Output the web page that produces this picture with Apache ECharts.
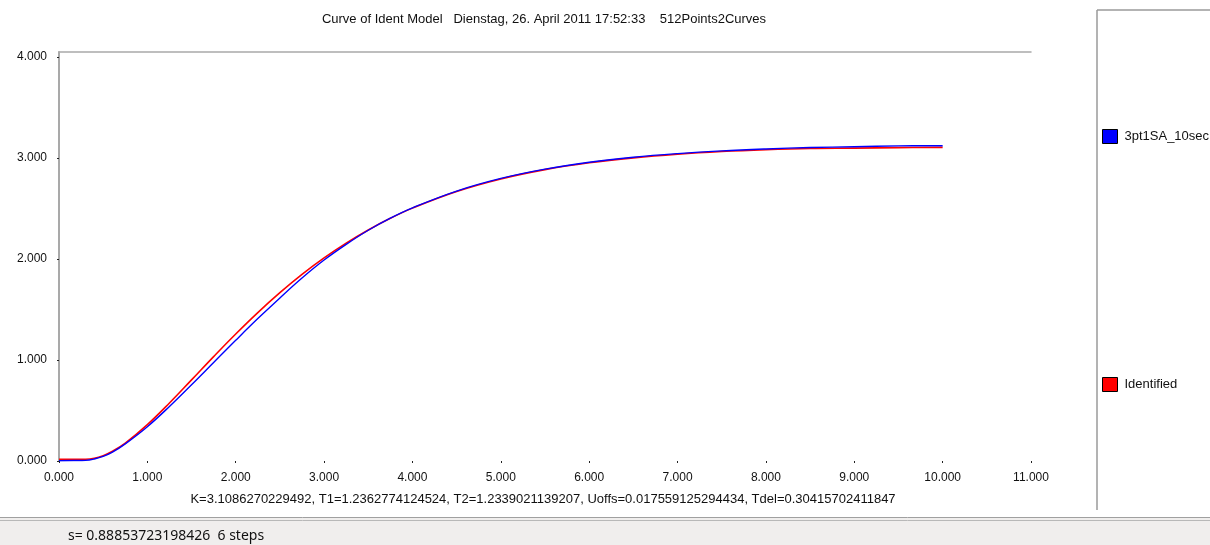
<!DOCTYPE html>
<html>
<head>
<meta charset="utf-8">
<title>Curve of Ident Model</title>
<script src="https://cdn.jsdelivr.net/npm/echarts@6/dist/echarts.min.js"></script>
<style>
  html, body { margin: 0; padding: 0; background: #ffffff; }
  #chart { width: 1210px; height: 545px; }
</style>
</head>
<body>
<div id="chart"></div>
<script>
// Time axis samples (seconds)
const timeValues = [0, 0.25, 0.3, 0.4, 0.5, 0.6, 0.75, 1.0, 1.25, 1.5, 1.75, 2.0, 2.25, 2.5, 2.75,
  3.0, 3.25, 3.5, 3.75, 4.0, 4.5, 5.0, 5.5, 6.0, 6.5, 7.0, 7.5, 8.0, 8.5, 9.0, 9.5, 10.0];

// Measured step response "3pt1SA_10sec"
const measuredValues = [0.003, 0.005, 0.006, 0.02, 0.045, 0.085, 0.17, 0.34, 0.54, 0.755, 0.975, 1.195,
  1.41, 1.615, 1.812, 1.99, 2.145, 2.285, 2.405, 2.507, 2.673, 2.798, 2.89, 2.958, 3.008, 3.044,
  3.071, 3.09, 3.104, 3.112, 3.12, 3.122];

// Identified model response
const identifiedValues = [0.018, 0.018, 0.018, 0.027, 0.053, 0.094, 0.177, 0.36, 0.574, 0.803, 1.034,
  1.258, 1.47, 1.667, 1.848, 2.011, 2.157, 2.288, 2.403, 2.504, 2.669, 2.793, 2.885, 2.953, 3.002,
  3.038, 3.064, 3.082, 3.094, 3.098, 3.103, 3.106];

const xTickValues = [0, 1, 2, 3, 4, 5, 6, 7, 8, 9, 10, 11];
const yTickValues = [0, 1, 2, 3, 4];

const seriesNames = ['3pt1SA_10sec', 'Identified'];
const chartTitle = 'Curve of Ident Model   Dienstag, 26. April 2011 17:52:33    512Points2Curves';
const paramText = 'K=3.1086270229492, T1=1.2362774124524, T2=1.2339021139207, Uoffs=0.017559125294434, Tdel=0.30415702411847';
const statusText = 's= 0.88853723198426  6 steps';

const pairs = (ys) => timeValues.map((t, i) => [t, ys[i]]);
const fmt = (v) => v.toFixed(3);

const chart = echarts.init(document.getElementById('chart'), null, { renderer: 'canvas' });

const baseFont = 'Liberation Sans, Arial, sans-serif';

chart.setOption({
  backgroundColor: '#ffffff',
  animation: false,
  textStyle: { fontFamily: baseFont },
  title: [
    {
      text: chartTitle,
      left: 539, top: 8, textAlign: 'center',
      textStyle: { fontSize: 13, fontWeight: 'normal', color: '#111', fontFamily: baseFont }
    },
    {
      text: paramText,
      left: 538, top: 488, textAlign: 'center',
      textStyle: { fontSize: 13, fontWeight: 'normal', color: '#111', fontFamily: baseFont }
    }
  ],
  grid: { left: 59, right: 179, top: 52, bottom: 84, containLabel: false },
  legend: {
    orient: 'vertical',
    left: 1102, top: 129, padding: 0,
    itemWidth: 15, itemHeight: 14, itemGap: 233,
    icon: 'rect',
    itemStyle: { borderColor: '#000', borderWidth: 1 },
    textStyle: { fontSize: 13, color: '#111', fontFamily: baseFont, padding: [0, 0, 0, 2] },
    data: seriesNames
  },
  xAxis: [
    {
      type: 'value', min: 0, max: 11, interval: 1,
      position: 'bottom',
      axisLine: { show: false },
      axisTick: { show: true, length: 2, inside: false, lineStyle: { color: '#222', width: 1 }, customValues: xTickValues },
      axisLabel: { margin: 11, fontSize: 12, color: '#111', fontFamily: baseFont, formatter: fmt, customValues: xTickValues },
      splitLine: { show: false }
    },
    {
      type: 'value', min: 0, max: 11, position: 'top',
      axisLine: { show: true, lineStyle: { color: '#a9a9a9', width: 1.5 } },
      axisTick: { show: false }, axisLabel: { show: false }, splitLine: { show: false }
    }
  ],
  yAxis: {
    type: 'value', min: 0, max: 4.05, interval: 1,
    axisLine: { show: true, lineStyle: { color: '#a9a9a9', width: 2 } },
    axisTick: { show: true, length: 2, lineStyle: { color: '#222', width: 1 }, customValues: yTickValues },
    axisLabel: { margin: 12, fontSize: 12, color: '#111', fontFamily: baseFont, formatter: fmt, customValues: yTickValues },
    splitLine: { show: false }
  },
  series: [
    {
      name: seriesNames[1], type: 'line', data: pairs(identifiedValues),
      smooth: 0.4, showSymbol: false, symbol: 'none',
      color: '#ff0000', lineStyle: { color: '#ff0000', width: 1.6 }, z: 2
    },
    {
      name: seriesNames[0], type: 'line', data: pairs(measuredValues),
      smooth: 0.4, showSymbol: false, symbol: 'none',
      color: '#0000ff', lineStyle: { color: '#0000ff', width: 1.4 }, z: 3
    }
  ],
  graphic: [
    // legend panel frame
    { type: 'line', shape: { x1: 1097, y1: 10, x2: 1097, y2: 510 }, style: { stroke: '#9a9a9a', lineWidth: 1.5 } },
    { type: 'line', shape: { x1: 1097, y1: 10, x2: 1210, y2: 10 }, style: { stroke: '#9a9a9a', lineWidth: 1.5 } },
    // status bar
    { type: 'rect', shape: { x: 0, y: 517, width: 1210, height: 28 }, style: { fill: '#f0eeed' } },
    { type: 'line', shape: { x1: 0, y1: 517.5, x2: 1210, y2: 517.5 }, style: { stroke: '#a0a0a0', lineWidth: 1 } },
    { type: 'line', shape: { x1: 0, y1: 520.5, x2: 1210, y2: 520.5 }, style: { stroke: '#b8b8b8', lineWidth: 1 } },
    {
      type: 'text', left: 68, top: 529,
      style: { text: statusText, fontSize: 14, fill: '#111', fontFamily: 'Noto Sans, sans-serif' }
    }
  ]
});
</script>
</body>
</html>
